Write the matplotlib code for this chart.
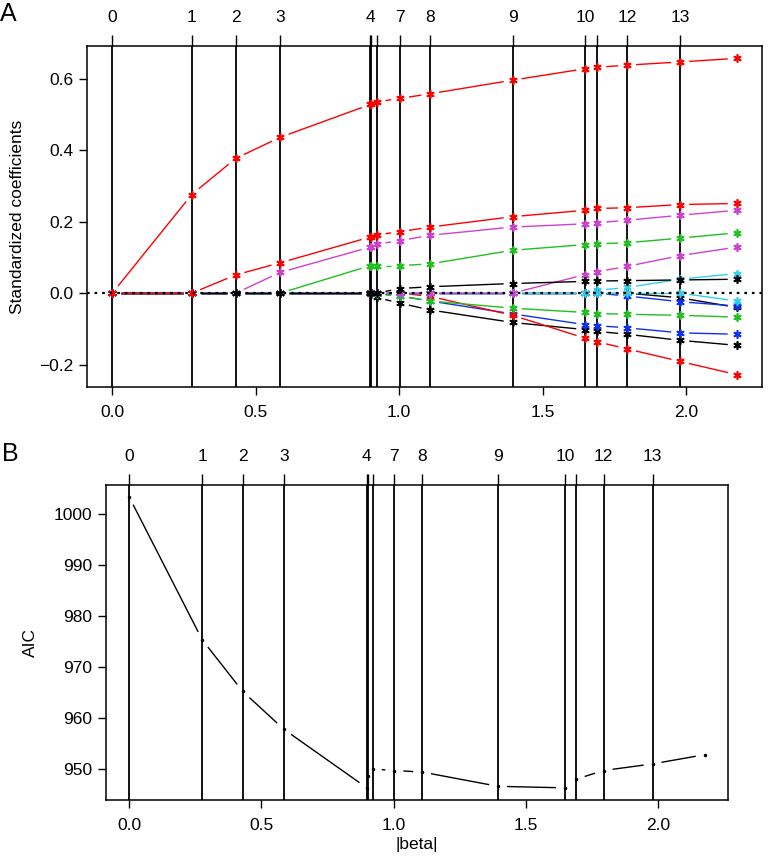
import numpy as np
import matplotlib
matplotlib.use("Agg")
import matplotlib.pyplot as plt
from matplotlib.collections import LineCollection

plt.rcParams['font.family'] = ['Liberation Sans', 'DejaVu Sans']

# ---------------- data ----------------
# |beta| at each lars step (0..13) plus the final fit
steps = [0.0, 0.277, 0.430, 0.585, 0.899, 0.902, 0.921, 1.003, 1.108,
         1.395, 1.648, 1.690, 1.794, 1.979, 2.176]
n_breaks = 14
top_labels = ["0", "1", "2", "3", "4", "", "", "7", "8", "9", "10", "", "12", "13"]

# standardized coefficient paths, in column order (colours cycle like R)
coef_v01 = [0, 0, 0, 0, 0, -0.002, -0.012, -0.028, -0.047, -0.082, -0.102, -0.107, -0.115, -0.132, -0.146]
coef_v02 = [0, 0.276, 0.377, 0.436, 0.528, 0.529, 0.535, 0.545, 0.558, 0.596, 0.628, 0.632, 0.638, 0.647, 0.657]
coef_v03 = [0, 0, 0, 0, 0.077, 0.077, 0.077, 0.077, 0.082, 0.120, 0.136, 0.138, 0.141, 0.154, 0.169]
coef_v04 = [0, 0, 0, 0, 0, 0, 0, -0.008, -0.022, -0.058, -0.088, -0.091, -0.097, -0.111, -0.115]
coef_v05 = [0, 0, 0, 0, 0, 0, 0, 0, 0, 0, 0, 0.008, 0.016, 0.039, 0.055]
coef_v06 = [0, 0, 0, 0.058, 0.129, 0.130, 0.137, 0.147, 0.162, 0.185, 0.194, 0.197, 0.204, 0.218, 0.232]
coef_v07 = [0, 0, 0, 0, 0, 0, 0, 0, 0, 0, 0, 0, 0, -0.013, -0.040]
coef_v08 = [0, 0, 0, 0, 0, 0, 0, 0, -0.009, -0.062, -0.126, -0.136, -0.156, -0.191, -0.228]
coef_v09 = [0, 0, 0, 0, 0, 0, -0.003, -0.008, -0.022, -0.042, -0.054, -0.057, -0.059, -0.062, -0.067]
coef_v10 = [0, 0, 0, 0, 0, 0, 0, 0, 0, 0, 0, 0, -0.008, -0.024, -0.036]
coef_v11 = [0, 0, 0, 0, 0, 0, 0, 0, 0, 0, 0, 0, 0, 0, -0.022]
coef_v12 = [0, 0, 0, 0, 0, 0, 0, 0, 0, 0, 0.052, 0.060, 0.075, 0.105, 0.129]
coef_v13 = [0, 0, 0, 0, 0, 0, 0, 0.013, 0.018, 0.027, 0.033, 0.034, 0.035, 0.037, 0.039]
coef_v14 = [0, 0, 0.051, 0.085, 0.157, 0.158, 0.163, 0.172, 0.185, 0.214, 0.232, 0.237, 0.239, 0.248, 0.251]

aic = [1003.4, 975.3, 965.2, 957.8, 946.3, 948.7, 950.0, 949.7, 949.4,
       946.6, 946.3, 948.0, 949.7, 951.0, 952.8]

xticks = [0.0, 0.5, 1.0, 1.5, 2.0]
yticks_a = [-0.2, 0.0, 0.2, 0.4, 0.6]
yticks_b = [950, 960, 970, 980, 990, 1000]

palette = ["#000000", "#FF0000", "#1FC01F", "#1030F0", "#30D0EA", "#D040D0"]

coefs = [coef_v01, coef_v02, coef_v03, coef_v04, coef_v05, coef_v06, coef_v07,
         coef_v08, coef_v09, coef_v10, coef_v11, coef_v12, coef_v13, coef_v14]

# ---------------- figure ----------------
W, H = 768, 858
fig = plt.figure(figsize=(W / 100, H / 100), dpi=100)


def px_axes(l, r, t, b):
    return fig.add_axes([l / W, 1 - b / H, (r - l) / W, (b - t) / H])


axA = px_axes(87.3, 761.7, 45.7, 387.3)
axB = px_axes(106, 727.7, 485, 799.5)

s = np.array(steps)
xr = s.max() - s.min()
xlim = (s.min() - 0.04 * xr, s.max() + 0.04 * xr)

allc = np.array(coefs)
yr = allc.max() - allc.min()
ylimA = (allc.min() - 0.04 * yr, allc.max() + 0.04 * yr)
a = np.array(aic)
ar = a.max() - a.min()
ylimB = (a.min() - 0.04 * ar, a.max() + 0.04 * ar)

axA.set_xlim(xlim)
axA.set_ylim(ylimA)
axB.set_xlim(xlim)
axB.set_ylim(ylimB)


def gapped(ax, x, y, gap=9.0):
    pts = ax.transData.transform(np.column_stack([x, y]))
    inv = ax.transData.inverted()
    segs = []
    for i in range(len(x) - 1):
        p0, p1 = pts[i], pts[i + 1]
        d = p1 - p0
        L = np.hypot(d[0], d[1])
        if L <= 2 * gap + 1:
            continue
        u = d / L
        segs.append(inv.transform(np.array([p0 + u * gap, p1 - u * gap])))
    return segs


for ax in (axA, axB):
    for sp in ax.spines.values():
        sp.set_linewidth(1.1)
    ax.vlines(s[:n_breaks], 0, 1, transform=ax.get_xaxis_transform(),
              colors="black", lw=1.3, zorder=1)
    ax.set_xticks(xticks)
    ax.set_xticklabels([f"{v:.1f}" for v in xticks])
    ax.tick_params(axis="both", direction="out", length=6, width=1.0,
                   labelsize=12.5, pad=7)
    ax.tick_params(axis="y", pad=4)
    top = ax.secondary_xaxis("top")
    top.set_xticks(s[:n_breaks])
    top.set_xticklabels(top_labels)
    top.tick_params(direction="out", length=8, width=1.0, labelsize=12.5, pad=7)
    top.spines["top"].set_visible(False)

# panel A paths
for j, c in enumerate(coefs):
    col = palette[j % len(palette)]
    lc = LineCollection(gapped(axA, s, c), colors=col, linewidths=1.0, zorder=3)
    axA.add_collection(lc)
for j, c in enumerate(coefs):
    col = palette[j % len(palette)]
    axA.plot(s, c, linestyle="none", marker=(6, 2, 0), markersize=6,
             markeredgewidth=1.2, color=col, zorder=4)
axA.axhline(0, color="black", lw=1.6, linestyle=(0, (1.2, 2.2)), zorder=5)

axA.set_yticks(yticks_a)
axA.set_yticklabels([f"{v:.1f}".replace("-", "\u2212") for v in yticks_a])
axA.set_ylabel("Standardized coefficients", fontsize=12.5, va="center")
axA.yaxis.set_label_coords((18 - 87.3) / 674.4, 0.5)

# panel B
axB.add_collection(LineCollection(gapped(axB, s, aic), colors="black",
                                  linewidths=1.0, zorder=3))
axB.plot(s, aic, linestyle="none", marker="o", markersize=1.5, color="black", zorder=4)
axB.set_yticks(yticks_b)
axB.set_yticklabels([str(v) for v in yticks_b])
axB.set_ylabel("AIC", fontsize=12.5, va="center")
axB.yaxis.set_label_coords((30 - 106) / 621.7, 0.5)
axB.set_xlabel("|beta|", fontsize=12.5, va="center")
axB.xaxis.set_label_coords(0.5, -(845 - 799.5) / 314.5)

fig.text(8 / W, 1 - 14 / H, "A", fontsize=18, ha="center", va="center")
fig.text(10 / W, 1 - 454 / H, "B", fontsize=18, ha="center", va="center")

fig.savefig("out.png", dpi=100)
